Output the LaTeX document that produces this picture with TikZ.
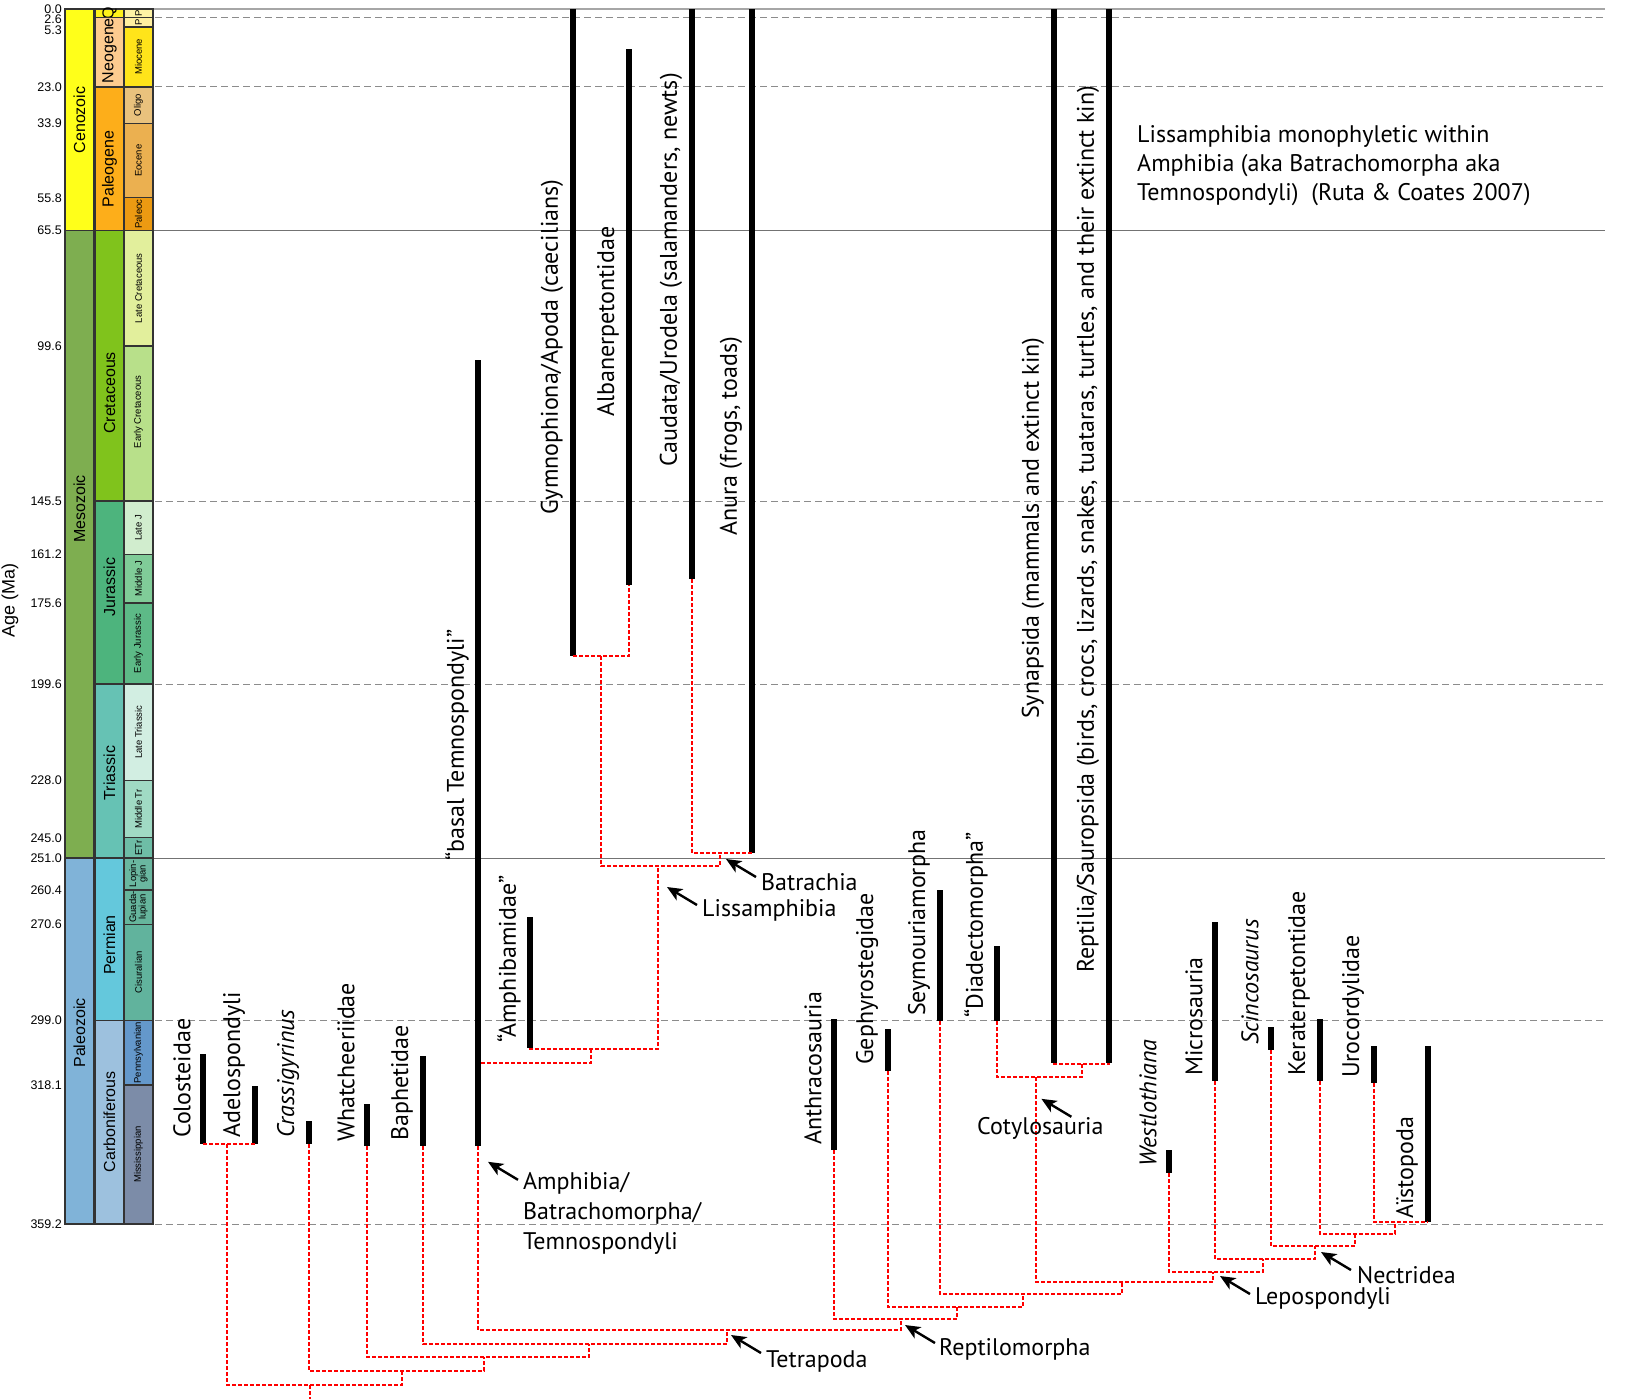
\documentclass[tikz,border=0pt]{standalone}
\usepackage{fontspec}
\setmainfont{PT Sans}
\newfontfamily\axisfont{Liberation Sans}
\usetikzlibrary{arrows.meta,calc,positioning}
% chart colours
\definecolor{cenozoic}{HTML}{FFFF1A}
\definecolor{mesozoic}{HTML}{7EAE50}
\definecolor{paleozoic}{HTML}{80B3D8}
\definecolor{quaternary}{HTML}{FFF21A}
\definecolor{neogene}{HTML}{FDCB8F}
\definecolor{paleogene}{HTML}{FDAE1A}
\definecolor{cretaceous}{HTML}{80C31C}
\definecolor{jurassic}{HTML}{4DB47D}
\definecolor{triassic}{HTML}{66C2B4}
\definecolor{permian}{HTML}{64C8DC}
\definecolor{carboniferous}{HTML}{9DC1DE}
\definecolor{pleisto}{HTML}{FEF3A5}
\definecolor{plio}{HTML}{FFF0A0}
\definecolor{miocene}{HTML}{FFE41A}
\definecolor{oligocene}{HTML}{E9C27D}
\definecolor{eocene}{HTML}{EBB050}
\definecolor{paleocene}{HTML}{EC9A12}
\definecolor{latecret}{HTML}{E2EF9C}
\definecolor{earlycret}{HTML}{B8E08A}
\definecolor{latej}{HTML}{D1EDCE}
\definecolor{middlej}{HTML}{80CC98}
\definecolor{earlyj}{HTML}{5DBA87}
\definecolor{latetr}{HTML}{D2EEE2}
\definecolor{middletr}{HTML}{A0DAC4}
\definecolor{earlytr}{HTML}{6EBDA6}
\definecolor{lopingian}{HTML}{6AB7A0}
\definecolor{guadalupian}{HTML}{66B59C}
\definecolor{cisuralian}{HTML}{61B39D}
\definecolor{pennsylvanian}{HTML}{6498CB}
\definecolor{mississippian}{HTML}{7C8CA8}
\tikzset{
  bar/.style={line width=6.5pt},
  branch/.style={red,line width=1.3pt,dash pattern=on 4pt off 2pt},
  ageline/.style={black!45,line width=1pt,dash pattern=on 7pt off 4pt},
  bound/.style={black!55,line width=1pt},
  pointer/.style={-{Stealth[length=15pt,width=13pt,inset=4pt]},line width=2.4pt},
  taxon/.style={rotate=90,anchor=west,inner sep=0pt,font=\fontsize{24}{28}\selectfont},
  clade/.style={anchor=west,inner sep=0pt,align=left,font=\fontsize{24}{30}\selectfont},
  cell/.style={draw=black!80,line width=1.4pt},
  cellname/.style={rotate=90,inner sep=0pt,font=\axisfont\fontsize{16}{18}\selectfont},
  epochname/.style={rotate=90,inner sep=0pt,align=center,font=\axisfont\fontsize{9.5}{9.5}\selectfont},
  agelbl/.style={anchor=east,inner sep=0pt,font=\axisfont\fontsize{12.5}{14}\selectfont}
}
\newcommand{\ya}[1]{9+3.3826*(#1)}

\begin{document}
\begin{tikzpicture}[x=1pt,y=-1pt]
  \useasboundingbox (0,0) rectangle (1641,1398);
  % age lines
  \foreach \a in {2.6,23.0,145.5,199.6,299.0,359.2}
    \draw[ageline] (155,{\ya{\a}}) -- (1605,{\ya{\a}});
  \draw[black!35,line width=1.8pt] (153,{\ya{0}}) -- (1605,{\ya{0}});
  \foreach \a in {65.5,251.0}
    \draw[bound] (153,{\ya{\a}}) -- (1605,{\ya{\a}});

  % time scale
  \foreach \t/\b/\c/\n/\m [count=\i] in {0/65.5/cenozoic/Cenozoic/32.8,
      65.5/251/mesozoic/Mesozoic/147.8, 251/359.2/paleozoic/Paleozoic/302.7}{
    \draw[cell,fill=\c] (65,{\ya{\t}}) rectangle (94,{\ya{\b}});
    \node[cellname] (era\i) at (79.5,{\ya{\m}}) {\n};
  }
  \foreach \t/\b/\c/\n/\m [count=\i] in {0/2.6/quaternary/Q/1.3,
      2.6/23/neogene/Neogene/12.3, 23/65.5/paleogene/Paleogene/47.3,
      65.5/145.5/cretaceous/Cretaceous/113.5, 145.5/199.6/jurassic/Jurassic/170.9,
      199.6/251/triassic/Triassic/225.9, 251/299/permian/Permian/276.7,
      299/359.2/carboniferous/Carboniferous/329.0}{
    \draw[cell,fill=\c] (95,{\ya{\t}}) rectangle (124,{\ya{\b}});
    \node[cellname] (period\i) at (109.5,{\ya{\m}}) {\n};
  }
  \foreach \t/\b/\c/\n/\m [count=\i] in {0/2.6/pleisto/P/1.3, 2.6/5.3/plio/P/3.95,
      5.3/23/miocene/Miocene/14.15, 23/33.9/oligocene/Oligo/28.45,
      33.9/55.8/eocene/Eocene/44.85, 55.8/65.5/paleocene/Paleoc/60.65,
      65.5/99.6/latecret/Late Cretaceous/82.55, 99.6/145.5/earlycret/Early Cretaceous/119.1,
      145.5/161.2/latej/Late J/153.35, 161.2/175.6/middlej/Middle J/168.4,
      175.6/199.6/earlyj/Early Jurassic/187.6, 199.6/228/latetr/Late Triassic/213.8,
      228/245/middletr/Middle Tr/236.5, 245/251/earlytr/ETr/248,
      251/260.4/lopingian/{Lopin-\\gian}/255.7, 260.4/270.6/guadalupian/{Guada-\\lupian}/265.5,
      270.6/299/cisuralian/Cisuralian/284.8, 299/318.1/pennsylvanian/Pennsylvanian/308.55,
      318.1/359.2/mississippian/Mississippian/338.65}{
    \draw[cell,fill=\c] (124,{\ya{\t}}) rectangle (153,{\ya{\b}});
    \node[epochname] (epoch\i) at (138.5,{\ya{\m}}) {\n};
  }
  \node[agelbl] (age1) at (62,9) {0.0};
  \node[agelbl] (age2) at (62,19) {2.6};
  \node[agelbl] (age3) at (62,30) {5.3};
  \foreach \a [count=\i from 4] in {23.0,33.9,55.8,65.5,99.6,145.5,161.2,175.6,
      199.6,228.0,245.0,251.0,260.4,270.6,299.0,318.1,359.2}
    \node[agelbl] (age\i) at (62,{\ya{\a}}) {\a};
  \node[rotate=90,font=\axisfont\fontsize{18}{20}\selectfont] (agetitle) at (10,600) {Age (Ma)};

  % ranges
  \foreach \n/\x/\t/\b/\s/\l in {
      colo/203/1054/1144/1138/Colosteidae,
      adel/255/1086/1144/1138/Adelospondyli,
      cras/309/1121/1144/1138/\textit{Crassigyrinus},
      what/367/1104/1146/1142/Whatcheeriidae,
      baph/423/1056/1146/1141/Baphetidae,
      temn/478/360/1146/861/“basal Temnospondyli”,
      amph/530/917/1048/1043/“Amphibamidae”,
      gymn/573/9/656/515/{Gymnophiona/Apoda (caecilians)},
      alba/629/49/585/417/Albanerpetontidae,
      caud/692/9/579/467/{Caudata/Urodela (salamanders, newts)},
      anur/752/9/853/536/{Anura (frogs, toads)},
      anth/834/1019/1150/1145/Anthracosauria,
      geph/888/1029/1071/1065/Gephyrostegidae,
      seym/940/890/1021/1016/Seymouriamorpha,
      diad/997/946/1021/1018/“Diadectomorpha”,
      syna/1054/9/1063/719/{Synapsida (mammals and extinct kin)},
      rept/1109/9/1063/973/{Reptilia/Sauropsida (birds, crocs, lizards, snakes, tuataras, turtles, and their extinct kin)},
      west/1169/1150/1173/1167/\textit{Westlothiana},
      micr/1215/922/1081/1076/Microsauria,
      scin/1271/1027/1050/1045/\textit{Scincosaurus},
      kera/1320/1019/1081/1076/Keraterpetontidae,
      uroc/1374/1046/1083/1078/Urocordylidae,
      aist/1428/1046/1222/1219/Aïstopoda}{
    \draw[bar] (\x,\t) -- (\x,\b) coordinate (\n);
    \node[taxon] (\n-name) at ({\x-21},\s) {\l};
  }

  % tree
  \coordinate (colade) at (227,1144);
  \coordinate (root) at (310,1385);
  \coordinate (cranode) at (402,1371);
  \coordinate (whanode) at (484,1357);
  \coordinate (bapnode) at (589,1344);
  \coordinate (tetra) at (727,1330);
  \coordinate (ga) at (601,656);
  \coordinate (bat) at (720,853);
  \coordinate (liss) at (658,866);
  \coordinate (amli) at (591,1049);
  \coordinate (temnside) at (481,1063);
  \coordinate (sr) at (1082,1064);
  \coordinate (coty) at (1036,1077);
  \coordinate (ua) at (1395,1222);
  \coordinate (kernode) at (1355,1234);
  \coordinate (nec) at (1315,1246);
  \coordinate (micnode) at (1263,1259);
  \coordinate (lep) at (1213,1272);
  \coordinate (cl) at (1122,1282);
  \coordinate (seynode) at (1023,1294);
  \coordinate (gepnode) at (957,1307);
  \coordinate (reptilo) at (901,1319);

  \draw[branch] (colo) |- (colade) -| (adel);
  \draw[branch] (colade) |- (root) -| (cranode);
  \draw[branch] (cras) |- (cranode) -| (whanode);
  \draw[branch] (what) |- (whanode) -| (bapnode);
  \draw[branch] (baph) |- (bapnode) -| (tetra);
  \draw[branch] (temn) |- (tetra) -| (reptilo);
  \draw[branch] (root) -- ++(0,14);
  \draw[branch] (gymn) |- (ga) -| (alba);
  \draw[branch] (caud) |- (bat) -| (anur);
  \draw[branch] (ga) |- (liss) -| (bat);
  \draw[branch] (amph) |- (amli) -| (liss);
  \draw[branch] (temnside) -| (amli);
  \draw[branch] (syna) |- (sr) -| (rept);
  \draw[branch] (diad) |- (coty) -| (sr);
  \draw[branch] (uroc) |- (ua) -| (aist);
  \draw[branch] (kera) |- (kernode) -| (ua);
  \draw[branch] (scin) |- (nec) -| (kernode);
  \draw[branch] (micr) |- (micnode) -| (nec);
  \draw[branch] (west) |- (lep) -| (micnode);
  \draw[branch] (coty) |- (cl) -| (lep);
  \draw[branch] (seym) |- (seynode) -| (cl);
  \draw[branch] (geph) |- (gepnode) -| (seynode);
  \draw[branch] (anth) |- (reptilo) -| (gepnode);

  % clade names
  \node[clade] (batrachia) at (761,882) {Batrachia};
  \node[clade] (lissamphibia) at (702,910) {Lissamphibia};
  \node[clade] (amphibia) at (523,1213) {Amphibia/\\Batrachomorpha/\\Temnospondyli};
  \node[clade] (cotylosauria) at (977,1128) {Cotylosauria};
  \node[clade] (nectridea) at (1357,1275) {Nectridea};
  \node[clade] (lepospondyli) at (1255,1298) {Lepospondyli};
  \node[clade] (reptilomorpha) at (939,1349) {Reptilomorpha};
  \node[clade] (tetrapoda) at (766,1361) {Tetrapoda};
  \draw[pointer] ($(batrachia.west)+(-5,-5)$) -- ++(-30,-18);
  \draw[pointer] ($(lissamphibia.west)+(-5,-5)$) -- ++(-30,-18);
  \draw[pointer] ($(amphibia.north west)+(-5,8)$) -- ++(-30,-18);
  \draw[pointer] ($(cotylosauria.north)+(31,0)$) -- ++(-30,-18);
  \draw[pointer] ($(nectridea.west)+(-6,-5)$) -- ++(-30,-18);
  \draw[pointer] ($(lepospondyli.west)+(-5,-4)$) -- ++(-30,-18);
  \draw[pointer] ($(reptilomorpha.west)+(-4,-6)$) -- ++(-30,-18);
  \draw[pointer] ($(tetrapoda.west)+(-5,-8)$) -- ++(-30,-18);

  \node[clade,font=\fontsize{24}{29}\selectfont] (note) at (1137,166)
    {Lissamphibia monophyletic within\\Amphibia (aka Batrachomorpha aka\\Temnospondyli)\ \ (Ruta \& Coates 2007)};
\end{tikzpicture}
\end{document}
